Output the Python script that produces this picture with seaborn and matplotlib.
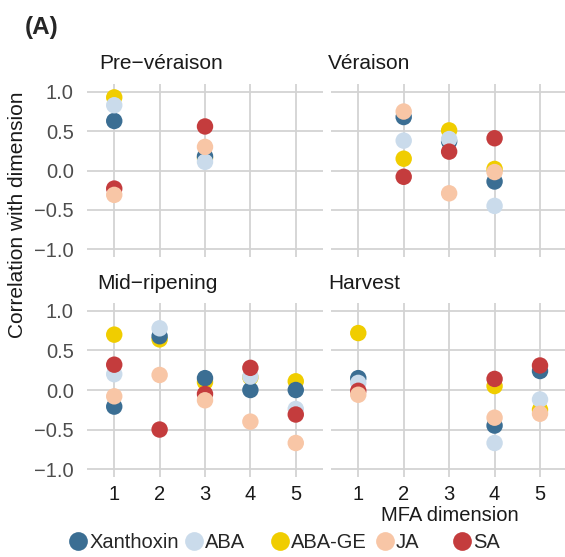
import numpy as np
import pandas as pd
import matplotlib
matplotlib.use("Agg")
import matplotlib.pyplot as plt
import seaborn as sns
from matplotlib.lines import Line2D

# ---------------- data ----------------
stages = ["Pre\u2212véraison", "Véraison", "Mid\u2212ripening", "Harvest"]
hormones = ["Xanthoxin", "ABA", "ABA-GE", "JA", "SA"]
draw_order = ["ABA-GE", "Xanthoxin", "ABA", "SA", "JA"]
colors = ["#3B6E93", "#CADBEB", "#F0CD00", "#F8C6A6", "#C43C3D"]
dims = [1, 2, 3, 4, 5]
nan = np.nan

# values per stage, per hormone, dims 1..5
pre_xanthoxin = [0.63, nan, 0.18, nan, nan]
pre_aba = [0.83, nan, 0.11, nan, nan]
pre_abage = [0.93, nan, 0.16, nan, nan]
pre_ja = [-0.31, nan, 0.30, nan, nan]
pre_sa = [-0.23, nan, 0.56, nan, nan]

ver_xanthoxin = [nan, 0.68, 0.37, -0.14, nan]
ver_aba = [nan, 0.38, 0.40, -0.45, nan]
ver_abage = [nan, 0.15, 0.51, 0.02, nan]
ver_ja = [nan, 0.75, -0.29, -0.02, nan]
ver_sa = [nan, -0.08, 0.24, 0.41, nan]

mid_xanthoxin = [-0.21, 0.68, 0.15, 0.00, 0.00]
mid_aba = [0.20, 0.78, nan, 0.17, -0.24]
mid_abage = [0.70, 0.64, 0.10, 0.16, 0.11]
mid_ja = [-0.08, 0.19, -0.13, -0.40, -0.67]
mid_sa = [0.32, -0.50, -0.05, 0.28, -0.31]

har_xanthoxin = [0.15, nan, nan, -0.45, 0.24]
har_aba = [0.09, nan, nan, -0.67, -0.12]
har_abage = [0.72, nan, nan, 0.05, -0.25]
har_ja = [-0.06, nan, nan, -0.35, -0.30]
har_sa = [-0.01, nan, nan, 0.14, 0.31]

table = {
    stages[0]: dict(zip(hormones, [pre_xanthoxin, pre_aba, pre_abage, pre_ja, pre_sa])),
    stages[1]: dict(zip(hormones, [ver_xanthoxin, ver_aba, ver_abage, ver_ja, ver_sa])),
    stages[2]: dict(zip(hormones, [mid_xanthoxin, mid_aba, mid_abage, mid_ja, mid_sa])),
    stages[3]: dict(zip(hormones, [har_xanthoxin, har_aba, har_abage, har_ja, har_sa])),
}
rows = []
for st in stages:
    for h in draw_order:
        for d, v in zip(dims, table[st][h]):
            if not np.isnan(v):
                rows.append({"stage": st, "hormone": h, "dim": d, "corr": v})
df = pd.DataFrame(rows)
palette = dict(zip(hormones, colors))

# ---------------- figure ----------------
W, H = 565, 557
sns.set_theme(style="white")
plt.rcParams["font.family"] = ["Liberation Sans", "DejaVu Sans"]
fig = plt.figure(figsize=(W / 100, H / 100), dpi=100)

def ax_at(x0, y0, x1, y1):
    return fig.add_axes([x0 / W, 1 - y1 / H, (x1 - x0) / W, (y1 - y0) / H])

boxes = [(87, 84, 323, 257), (331, 84, 565, 257), (87, 303, 323, 477), (331, 303, 565, 477)]
title_pos = [(99, 69), (328, 69), (97, 289), (328, 289)]
grid_c = "#D3D3D3"

for i, st in enumerate(stages):
    ax = ax_at(*boxes[i])
    sub = df[df["stage"] == st]
    sns.scatterplot(data=sub, x="dim", y="corr", hue="hormone", palette=palette,
                    s=140, edgecolor="none", linewidth=0, legend=False, ax=ax, zorder=3)
    ax.set_xlim(0.4, 5.6 if i % 2 == 0 else 5.55)
    ax.set_ylim(-1.1, 1.1)
    ax.set_xticks(dims)
    ax.set_yticks([-1.0, -0.5, 0.0, 0.5, 1.0])
    ax.grid(True, color=grid_c, linewidth=1.3, zorder=0)
    ax.set_axisbelow(True)
    for sp in ax.spines.values():
        sp.set_visible(False)
    ax.set_xlabel("")
    ax.set_ylabel("")
    ax.tick_params(length=0)
    if i % 2 == 0:
        ax.set_yticklabels(["\u22121.0", "\u22120.5", "0.0", "0.5", "1.0"],
                           fontsize=14.5, color="#4D4D4D")
        ax.tick_params(axis="y", pad=9.5)
    else:
        ax.set_yticklabels([])
    if i >= 2:
        ax.set_xticklabels([str(d) for d in dims], fontsize=14.5, color="#1A1A1A")
        ax.tick_params(axis="x", pad=6)
    else:
        ax.set_xticklabels([])
    tx, ty = title_pos[i]
    fig.text(tx / W, 1 - ty / H, st, fontsize=15, color="#1A1A1A", ha="left", va="baseline")

fig.text(25 / W, 1 - 34 / H, "(A)", fontsize=17.5, fontweight="bold", ha="left", va="baseline")
fig.text(18 / W, 1 - 215 / H, "Correlation with dimension", rotation=90,
         fontsize=15, ha="center", va="center", color="#1A1A1A")
fig.text(519 / W, 1 - 521 / H, "MFA dimension", fontsize=14.5, ha="right",
         va="baseline", color="#1A1A1A")

# legend entries placed like the reference's (marker centre x positions in px)
legend_x = [68, 184, 270, 375, 452]
for h, lx in zip(hormones, legend_x):
    hd = Line2D([0], [0], marker="o", linestyle="none", markersize=13.5,
                markerfacecolor=palette[h], markeredgecolor="none")
    fig.legend([hd], [h], loc="center left", bbox_to_anchor=(lx / W, 1 - 543 / H),
               frameon=False, fontsize=14.5, handletextpad=0.05, handlelength=1.0,
               borderaxespad=0, borderpad=0)

fig.savefig("out.png", dpi=100)
